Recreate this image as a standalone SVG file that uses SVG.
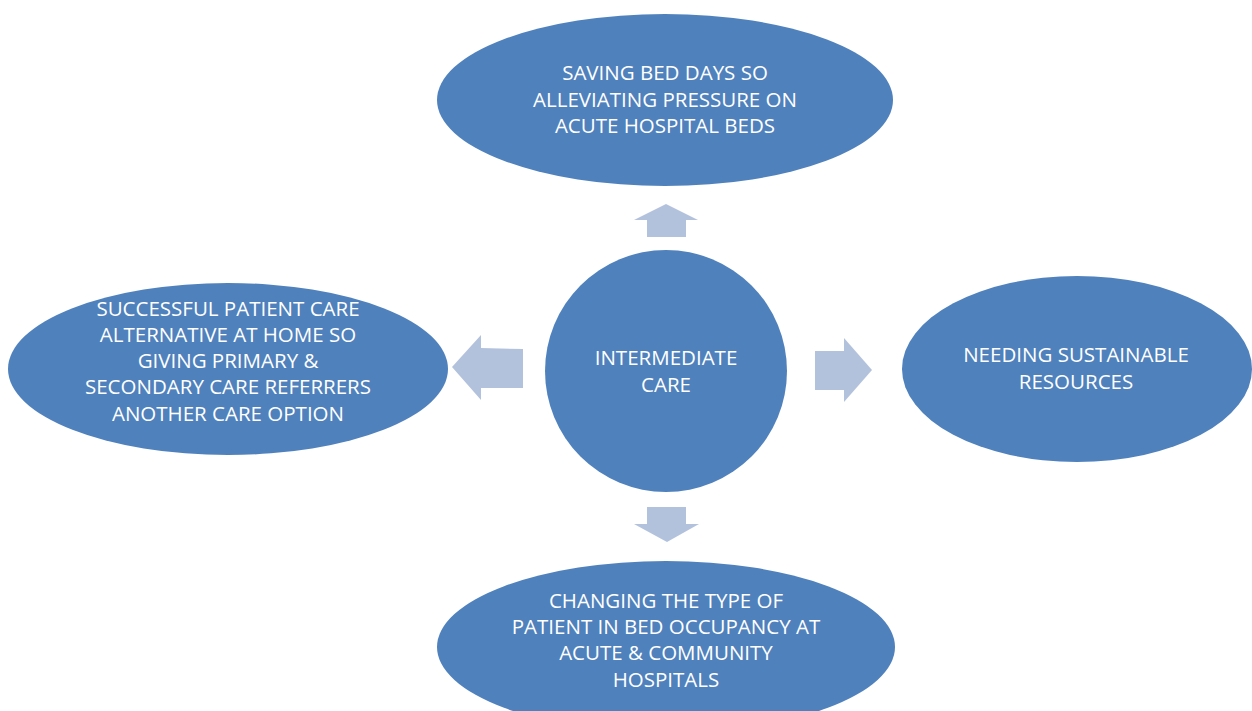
<svg xmlns="http://www.w3.org/2000/svg" width="1252" height="711" viewBox="0 0 1252 711">
<style>
.node{fill:#4F81BD}
.arrow{fill:#B3C2DC}
text{font-family:"Open Sans","Liberation Sans",sans-serif;font-size:20.5px;fill:#FFFFFF;text-anchor:middle}
</style>
<rect width="1252" height="711" fill="#FFFFFF"/>
<g id="connectors">
<polygon class="arrow" points="666,204 698,220 686,220 686,237 647,237 647,220 634,220"/>
<polygon class="arrow" points="872,370 844,338 844,351 815,351 815,390 844,390 844,402"/>
<polygon class="arrow" points="452,367 481,335 481,348 523,349 523,388 481,388 481,400"/>
<polygon class="arrow" points="667,542 699,524 686,524 686,507 647,507 647,524 634,524"/>
</g>
<g id="center">
<circle class="node" cx="666" cy="371" r="121"/>
<text x="666" y="365">INTERMEDIATE</text>
<text x="666" y="392">CARE</text>
</g>
<g id="top">
<ellipse class="node" cx="665" cy="100" rx="228" ry="86"/>
<text x="665" y="80">SAVING BED DAYS SO</text>
<text x="665" y="107">ALLEVIATING PRESSURE ON</text>
<text x="665" y="133">ACUTE HOSPITAL BEDS</text>
</g>
<g id="left">
<ellipse class="node" cx="228" cy="369" rx="220" ry="86"/>
<text x="228" y="316">SUCCESSFUL PATIENT CARE</text>
<text x="228" y="342">ALTERNATIVE AT HOME SO</text>
<text x="228" y="368">GIVING PRIMARY &amp;</text>
<text x="228" y="394">SECONDARY CARE REFERRERS</text>
<text x="228" y="421">ANOTHER CARE OPTION</text>
</g>
<g id="right">
<ellipse class="node" cx="1077" cy="369" rx="175" ry="93"/>
<text x="1076" y="362">NEEDING SUSTAINABLE</text>
<text x="1076" y="389">RESOURCES</text>
</g>
<g id="bottom">
<ellipse class="node" cx="666" cy="647" rx="229" ry="86"/>
<text x="666" y="608">CHANGING THE TYPE OF</text>
<text x="666" y="634">PATIENT IN BED OCCUPANCY AT</text>
<text x="666" y="660">ACUTE &amp; COMMUNITY</text>
<text x="666" y="687">HOSPITALS</text>
</g>
</svg>
